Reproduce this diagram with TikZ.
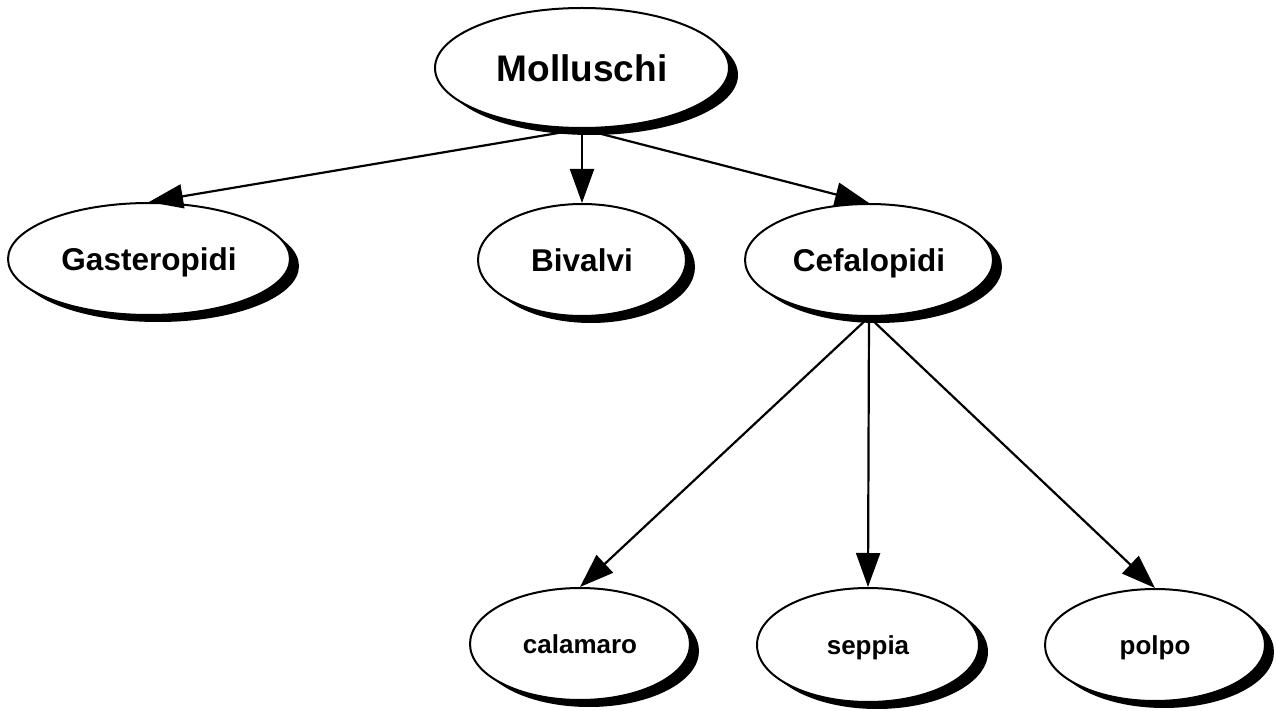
\documentclass[tikz,border=0pt]{standalone}
\usepackage{fontspec}
\setmainfont{Liberation Sans}
\usetikzlibrary{shapes.geometric,shadows,arrows.meta}
\begin{document}
\begin{tikzpicture}[x=1pt,y=-1pt,
  ell/.style={ellipse,draw=black,line width=2pt,fill=white,inner sep=0pt,
    text depth=0pt,
    drop shadow={shadow xshift=9pt,shadow yshift=-7pt,fill=black,opacity=1}},
  big/.style={font=\bfseries\fontsize{37}{40}\selectfont,text height=26.5pt},
  mid/.style={font=\bfseries\fontsize{31.5}{34}\selectfont,text height=22.6pt},
  small/.style={font=\bfseries\fontsize{26}{30}\selectfont,text height=18.6pt},
  conn/.style={line width=2.2pt,-{Triangle[length=34pt,width=24pt]}}]
\useasboundingbox (0,0) rectangle (1278,711);
\node[ell,big,minimum width=294pt,minimum height=120pt] (M) at (582,68) {Molluschi};
\node[ell,mid,minimum width=282pt,minimum height=112pt] (G) at (149,259) {Gasteropidi};
\node[ell,mid,minimum width=208pt,minimum height=112pt] (B) at (582,260) {Bivalvi};
\node[ell,mid,minimum width=248pt,minimum height=112pt] (C) at (869,260) {Cefalopidi};
\node[ell,small,minimum width=220pt,minimum height=112pt] (ca) at (580,644) {calamaro};
\node[ell,small,minimum width=222pt,minimum height=114pt] (se) at (868,645) {seppia};
\node[ell,small,minimum width=220pt,minimum height=112pt] (po) at (1155,645) {polpo};
\draw[conn] (M.south) -- (G.north);
\draw[conn] (M.south) -- (B.north);
\draw[conn] (M.south) -- (C.north);
\draw[conn] (C.south) -- (ca.north);
\draw[conn] (C.south) -- (se.north);
\draw[conn] (C.south) -- (po.north);
\end{tikzpicture}
\end{document}
